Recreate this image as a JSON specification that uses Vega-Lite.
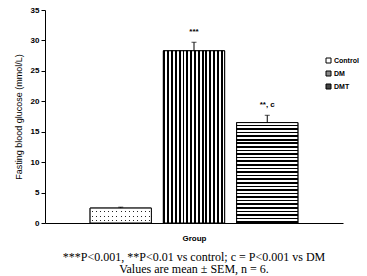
{
  "$schema": "https://vega.github.io/schema/vega-lite/v6.json",
  "width": 298,
  "height": 213,
  "autosize": {"type": "none"},
  "padding": {"left": 45, "top": 10, "right": 24, "bottom": 53},
  "background": "white",
  "config": {
    "view": {"stroke": null},
    "axis": {"domainColor": "black", "tickColor": "black", "labelColor": "black", "titleColor": "black", "labelFont": "Liberation Sans", "titleFont": "Liberation Sans", "grid": false},
    "axisY": {"tickCount": 7, "labelFontSize": 8, "labelFontWeight": "bold", "tickSize": 4, "labelPadding": 2, "titlePadding": 7, "titleFontSize": 9, "titleFontWeight": "normal"}
  },
  "title": {
    "text": ["***P<0.001, **P<0.01 vs control; c = P<0.001 vs DM", "Values are mean ± SEM, n = 6."],
    "orient": "bottom",
    "font": "Liberation Serif",
    "fontSize": 12,
    "fontWeight": "normal",
    "color": "black",
    "anchor": "middle",
    "lineHeight": 12,
    "offset": 10
  },
  "data": {
    "values": [
      {"group": "Control", "mean": 2.45, "upper": 2.6, "label": ""},
      {"group": "DM", "mean": 28.3, "upper": 29.7, "label": "***"},
      {"group": "DMT", "mean": 16.5, "upper": 17.7, "label": "**, c"}
    ]
  },
  "encoding": {
    "x": {
      "field": "group", "type": "nominal",
      "scale": {"domain": ["Control", "DM", "DMT"], "paddingInner": 0.164, "paddingOuter": 0.616},
      "axis": {"labels": false, "ticks": false, "title": "Group", "titleFontSize": 8, "titleFontWeight": "bold", "titlePadding": 11}
    }
  },
  "layer": [
    {
      "mark": {"type": "bar", "stroke": "black", "strokeWidth": 1},
      "encoding": {
        "y": {"field": "mean", "type": "quantitative",
          "scale": {"domain": [0, 35], "nice": false},
          "axis": {"title": "Fasting blood glucose (mmol/L)"}},
        "fill": {"field": "group", "type": "nominal",
          "scale": {"domain": ["Control", "DM", "DMT"], "range": ["white", "#888888", "#444444"]},
          "legend": {"title": null, "orient": "none", "legendX": 280, "legendY": 47, "symbolType": "square", "symbolSize": 25, "symbolStrokeColor": "black", "symbolStrokeWidth": 1, "labelFontSize": 7, "labelFontWeight": "bold", "labelFont": "Liberation Sans", "labelColor": "black", "rowPadding": 4, "labelOffset": 2}}
      }
    },
    {
      "transform": [{"filter": "datum.group == 'DM'"}],
      "mark": {"type": "bar", "stroke": "black", "strokeWidth": 1, "fill": {
        "gradient": "linear", "x1": 0, "y1": 0, "x2": 1, "y2": 0,
        "stops": [
          {"offset": 0, "color": "black"}, {"offset": 0.03125, "color": "black"}, {"offset": 0.03125, "color": "white"}, {"offset": 0.0625, "color": "white"},
          {"offset": 0.0625, "color": "black"}, {"offset": 0.09375, "color": "black"}, {"offset": 0.09375, "color": "white"}, {"offset": 0.125, "color": "white"},
          {"offset": 0.125, "color": "black"}, {"offset": 0.15625, "color": "black"}, {"offset": 0.15625, "color": "white"}, {"offset": 0.1875, "color": "white"},
          {"offset": 0.1875, "color": "black"}, {"offset": 0.21875, "color": "black"}, {"offset": 0.21875, "color": "white"}, {"offset": 0.25, "color": "white"},
          {"offset": 0.25, "color": "black"}, {"offset": 0.28125, "color": "black"}, {"offset": 0.28125, "color": "white"}, {"offset": 0.3125, "color": "white"},
          {"offset": 0.3125, "color": "black"}, {"offset": 0.34375, "color": "black"}, {"offset": 0.34375, "color": "white"}, {"offset": 0.375, "color": "white"},
          {"offset": 0.375, "color": "black"}, {"offset": 0.40625, "color": "black"}, {"offset": 0.40625, "color": "white"}, {"offset": 0.4375, "color": "white"},
          {"offset": 0.4375, "color": "black"}, {"offset": 0.46875, "color": "black"}, {"offset": 0.46875, "color": "white"}, {"offset": 0.5, "color": "white"},
          {"offset": 0.5, "color": "black"}, {"offset": 0.53125, "color": "black"}, {"offset": 0.53125, "color": "white"}, {"offset": 0.5625, "color": "white"},
          {"offset": 0.5625, "color": "black"}, {"offset": 0.59375, "color": "black"}, {"offset": 0.59375, "color": "white"}, {"offset": 0.625, "color": "white"},
          {"offset": 0.625, "color": "black"}, {"offset": 0.65625, "color": "black"}, {"offset": 0.65625, "color": "white"}, {"offset": 0.6875, "color": "white"},
          {"offset": 0.6875, "color": "black"}, {"offset": 0.71875, "color": "black"}, {"offset": 0.71875, "color": "white"}, {"offset": 0.75, "color": "white"},
          {"offset": 0.75, "color": "black"}, {"offset": 0.78125, "color": "black"}, {"offset": 0.78125, "color": "white"}, {"offset": 0.8125, "color": "white"},
          {"offset": 0.8125, "color": "black"}, {"offset": 0.84375, "color": "black"}, {"offset": 0.84375, "color": "white"}, {"offset": 0.875, "color": "white"},
          {"offset": 0.875, "color": "black"}, {"offset": 0.90625, "color": "black"}, {"offset": 0.90625, "color": "white"}, {"offset": 0.9375, "color": "white"},
          {"offset": 0.9375, "color": "black"}, {"offset": 0.96875, "color": "black"}, {"offset": 0.96875, "color": "white"}, {"offset": 1, "color": "white"}
        ]}},
      "encoding": {"y": {"field": "mean", "type": "quantitative"}}
    },
    {
      "transform": [{"filter": "datum.group == 'DMT'"}],
      "mark": {"type": "bar", "stroke": "black", "strokeWidth": 1, "fill": {
        "gradient": "linear", "x1": 0, "y1": 0, "x2": 0, "y2": 1,
        "stops": [
          {"offset": 0, "color": "white"}, {"offset": 0.0196, "color": "white"}, {"offset": 0.0196, "color": "black"}, {"offset": 0.0357, "color": "black"},
          {"offset": 0.0357, "color": "white"}, {"offset": 0.0553, "color": "white"}, {"offset": 0.0553, "color": "black"}, {"offset": 0.0714, "color": "black"},
          {"offset": 0.0714, "color": "white"}, {"offset": 0.0910, "color": "white"}, {"offset": 0.0910, "color": "black"}, {"offset": 0.1071, "color": "black"},
          {"offset": 0.1071, "color": "white"}, {"offset": 0.1267, "color": "white"}, {"offset": 0.1267, "color": "black"}, {"offset": 0.1429, "color": "black"},
          {"offset": 0.1429, "color": "white"}, {"offset": 0.1625, "color": "white"}, {"offset": 0.1625, "color": "black"}, {"offset": 0.1786, "color": "black"},
          {"offset": 0.1786, "color": "white"}, {"offset": 0.1982, "color": "white"}, {"offset": 0.1982, "color": "black"}, {"offset": 0.2143, "color": "black"},
          {"offset": 0.2143, "color": "white"}, {"offset": 0.2339, "color": "white"}, {"offset": 0.2339, "color": "black"}, {"offset": 0.25, "color": "black"},
          {"offset": 0.25, "color": "white"}, {"offset": 0.2696, "color": "white"}, {"offset": 0.2696, "color": "black"}, {"offset": 0.2857, "color": "black"},
          {"offset": 0.2857, "color": "white"}, {"offset": 0.3053, "color": "white"}, {"offset": 0.3053, "color": "black"}, {"offset": 0.3214, "color": "black"},
          {"offset": 0.3214, "color": "white"}, {"offset": 0.3410, "color": "white"}, {"offset": 0.3410, "color": "black"}, {"offset": 0.3571, "color": "black"},
          {"offset": 0.3571, "color": "white"}, {"offset": 0.3767, "color": "white"}, {"offset": 0.3767, "color": "black"}, {"offset": 0.3929, "color": "black"},
          {"offset": 0.3929, "color": "white"}, {"offset": 0.4125, "color": "white"}, {"offset": 0.4125, "color": "black"}, {"offset": 0.4286, "color": "black"},
          {"offset": 0.4286, "color": "white"}, {"offset": 0.4482, "color": "white"}, {"offset": 0.4482, "color": "black"}, {"offset": 0.4643, "color": "black"},
          {"offset": 0.4643, "color": "white"}, {"offset": 0.4839, "color": "white"}, {"offset": 0.4839, "color": "black"}, {"offset": 0.5, "color": "black"},
          {"offset": 0.5, "color": "white"}, {"offset": 0.5196, "color": "white"}, {"offset": 0.5196, "color": "black"}, {"offset": 0.5357, "color": "black"},
          {"offset": 0.5357, "color": "white"}, {"offset": 0.5553, "color": "white"}, {"offset": 0.5553, "color": "black"}, {"offset": 0.5714, "color": "black"},
          {"offset": 0.5714, "color": "white"}, {"offset": 0.5910, "color": "white"}, {"offset": 0.5910, "color": "black"}, {"offset": 0.6071, "color": "black"},
          {"offset": 0.6071, "color": "white"}, {"offset": 0.6267, "color": "white"}, {"offset": 0.6267, "color": "black"}, {"offset": 0.6429, "color": "black"},
          {"offset": 0.6429, "color": "white"}, {"offset": 0.6625, "color": "white"}, {"offset": 0.6625, "color": "black"}, {"offset": 0.6786, "color": "black"},
          {"offset": 0.6786, "color": "white"}, {"offset": 0.6982, "color": "white"}, {"offset": 0.6982, "color": "black"}, {"offset": 0.7143, "color": "black"},
          {"offset": 0.7143, "color": "white"}, {"offset": 0.7339, "color": "white"}, {"offset": 0.7339, "color": "black"}, {"offset": 0.75, "color": "black"},
          {"offset": 0.75, "color": "white"}, {"offset": 0.7696, "color": "white"}, {"offset": 0.7696, "color": "black"}, {"offset": 0.7857, "color": "black"},
          {"offset": 0.7857, "color": "white"}, {"offset": 0.8053, "color": "white"}, {"offset": 0.8053, "color": "black"}, {"offset": 0.8214, "color": "black"},
          {"offset": 0.8214, "color": "white"}, {"offset": 0.8410, "color": "white"}, {"offset": 0.8410, "color": "black"}, {"offset": 0.8571, "color": "black"},
          {"offset": 0.8571, "color": "white"}, {"offset": 0.8767, "color": "white"}, {"offset": 0.8767, "color": "black"}, {"offset": 0.8929, "color": "black"},
          {"offset": 0.8929, "color": "white"}, {"offset": 0.9125, "color": "white"}, {"offset": 0.9125, "color": "black"}, {"offset": 0.9286, "color": "black"},
          {"offset": 0.9286, "color": "white"}, {"offset": 0.9482, "color": "white"}, {"offset": 0.9482, "color": "black"}, {"offset": 0.9643, "color": "black"},
          {"offset": 0.9643, "color": "white"}, {"offset": 0.9839, "color": "white"}, {"offset": 0.9839, "color": "black"}, {"offset": 1, "color": "black"}
        ]}},
      "encoding": {"y": {"field": "mean", "type": "quantitative"}}
    },
    {
      "transform": [{"filter": "datum.group == 'Control'"}],
      "mark": {"type": "bar", "fill": {
        "gradient": "linear", "x1": 0, "y1": 0, "x2": 1, "y2": 0,
        "stops": [
          {"offset": 0, "color": "white"},
          {"offset": 0.03, "color": "white"}, {"offset": 0.03, "color": "#222222"}, {"offset": 0.0464, "color": "#222222"}, {"offset": 0.0464, "color": "white"},
          {"offset": 0.0967, "color": "white"}, {"offset": 0.0967, "color": "#222222"}, {"offset": 0.1131, "color": "#222222"}, {"offset": 0.1131, "color": "white"},
          {"offset": 0.1633, "color": "white"}, {"offset": 0.1633, "color": "#222222"}, {"offset": 0.1797, "color": "#222222"}, {"offset": 0.1797, "color": "white"},
          {"offset": 0.23, "color": "white"}, {"offset": 0.23, "color": "#222222"}, {"offset": 0.2464, "color": "#222222"}, {"offset": 0.2464, "color": "white"},
          {"offset": 0.2967, "color": "white"}, {"offset": 0.2967, "color": "#222222"}, {"offset": 0.3131, "color": "#222222"}, {"offset": 0.3131, "color": "white"},
          {"offset": 0.3633, "color": "white"}, {"offset": 0.3633, "color": "#222222"}, {"offset": 0.3797, "color": "#222222"}, {"offset": 0.3797, "color": "white"},
          {"offset": 0.43, "color": "white"}, {"offset": 0.43, "color": "#222222"}, {"offset": 0.4464, "color": "#222222"}, {"offset": 0.4464, "color": "white"},
          {"offset": 0.4967, "color": "white"}, {"offset": 0.4967, "color": "#222222"}, {"offset": 0.5131, "color": "#222222"}, {"offset": 0.5131, "color": "white"},
          {"offset": 0.5633, "color": "white"}, {"offset": 0.5633, "color": "#222222"}, {"offset": 0.5797, "color": "#222222"}, {"offset": 0.5797, "color": "white"},
          {"offset": 0.63, "color": "white"}, {"offset": 0.63, "color": "#222222"}, {"offset": 0.6464, "color": "#222222"}, {"offset": 0.6464, "color": "white"},
          {"offset": 0.6967, "color": "white"}, {"offset": 0.6967, "color": "#222222"}, {"offset": 0.7131, "color": "#222222"}, {"offset": 0.7131, "color": "white"},
          {"offset": 0.7633, "color": "white"}, {"offset": 0.7633, "color": "#222222"}, {"offset": 0.7797, "color": "#222222"}, {"offset": 0.7797, "color": "white"},
          {"offset": 0.83, "color": "white"}, {"offset": 0.83, "color": "#222222"}, {"offset": 0.8464, "color": "#222222"}, {"offset": 0.8464, "color": "white"},
          {"offset": 0.8967, "color": "white"}, {"offset": 0.8967, "color": "#222222"}, {"offset": 0.9131, "color": "#222222"}, {"offset": 0.9131, "color": "white"},
          {"offset": 0.9633, "color": "white"}, {"offset": 0.9633, "color": "#222222"}, {"offset": 0.9797, "color": "#222222"}, {"offset": 0.9797, "color": "white"},
          {"offset": 1, "color": "white"}
        ]}},
      "encoding": {"y": {"field": "mean", "type": "quantitative"}}
    },
    {
      "transform": [{"filter": "datum.group == 'Control'"}],
      "mark": {"type": "bar", "stroke": "black", "strokeWidth": 1, "fill": {
        "gradient": "linear", "x1": 0, "y1": 0, "x2": 0, "y2": 1,
        "stops": [
          {"offset": 0, "color": "white"}, {"offset": 0.2, "color": "white"}, {"offset": 0.2, "color": "rgba(255,255,255,0)"}, {"offset": 0.27, "color": "rgba(255,255,255,0)"}, {"offset": 0.27, "color": "white"},
          {"offset": 0.5, "color": "white"}, {"offset": 0.5, "color": "rgba(255,255,255,0)"}, {"offset": 0.57, "color": "rgba(255,255,255,0)"}, {"offset": 0.57, "color": "white"},
          {"offset": 0.8, "color": "white"}, {"offset": 0.8, "color": "rgba(255,255,255,0)"}, {"offset": 0.87, "color": "rgba(255,255,255,0)"}, {"offset": 0.87, "color": "white"},
          {"offset": 1, "color": "white"}
        ]}},
      "encoding": {"y": {"field": "mean", "type": "quantitative"}}
    },
    {
      "mark": {"type": "rule", "color": "black", "strokeWidth": 1},
      "encoding": {"y": {"field": "mean", "type": "quantitative"}, "y2": {"field": "upper"}}
    },
    {
      "mark": {"type": "tick", "color": "black", "thickness": 1, "size": 5, "orient": "horizontal"},
      "encoding": {"y": {"field": "upper", "type": "quantitative"}}
    },
    {
      "mark": {"type": "text", "baseline": "bottom", "dy": -6, "font": "Liberation Sans", "fontSize": 8, "fontWeight": "bold", "color": "black"},
      "encoding": {"y": {"field": "upper", "type": "quantitative"}, "text": {"field": "label"}}
    }
  ]
}
